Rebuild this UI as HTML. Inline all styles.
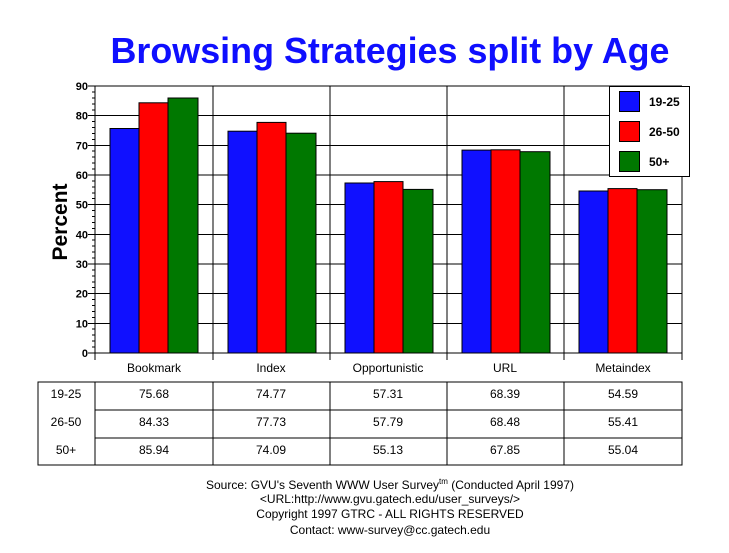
<!DOCTYPE html>
<html><head><style>
html,body{margin:0;padding:0;background:#fff;}
svg{display:block;font-family:"Liberation Sans",Arial,sans-serif;}
</style></head><body>
<svg width="729" height="553" viewBox="0 0 729 553" xmlns="http://www.w3.org/2000/svg">
<rect width="729" height="553" fill="#fff"/>
<text x="390" y="63" text-anchor="middle" font-size="36" font-weight="bold" fill="#0f0fff" textLength="559" lengthAdjust="spacingAndGlyphs">Browsing Strategies split by Age</text>
<g stroke="#000" stroke-width="1" shape-rendering="crispEdges">
<line x1="88" y1="86" x2="682" y2="86"/>
<line x1="88" y1="115.7" x2="682" y2="115.7"/>
<line x1="88" y1="145.3" x2="682" y2="145.3"/>
<line x1="88" y1="175" x2="682" y2="175"/>
<line x1="88" y1="204.7" x2="682" y2="204.7"/>
<line x1="88" y1="234.3" x2="682" y2="234.3"/>
<line x1="88" y1="264" x2="682" y2="264"/>
<line x1="88" y1="293.7" x2="682" y2="293.7"/>
<line x1="88" y1="323.3" x2="682" y2="323.3"/>
<line x1="88" y1="353" x2="682" y2="353"/>
<line x1="95" y1="86" x2="95" y2="360"/>
<line x1="213" y1="86" x2="213" y2="360"/>
<line x1="330" y1="86" x2="330" y2="360"/>
<line x1="447" y1="86" x2="447" y2="360"/>
<line x1="564" y1="86" x2="564" y2="360"/>
<line x1="682" y1="86" x2="682" y2="360"/>
</g>
<g stroke="#000" stroke-width="1" shape-rendering="crispEdges">
<path d="M92 92h3M92 98h3M92 104h3M92 110h3M92 121.6h3M92 127.5h3M92 133.4h3M92 139.4h3M92 151.2h3M92 157.2h3M92 163.1h3M92 169.1h3M92 180.9h3M92 186.8h3M92 192.8h3M92 198.7h3M92 210.6h3M92 216.5h3M92 222.5h3M92 228.4h3M92 240.2h3M92 246.2h3M92 252.1h3M92 258.1h3M92 269.9h3M92 275.9h3M92 281.8h3M92 287.7h3M92 299.6h3M92 305.5h3M92 311.5h3M92 317.4h3M92 329.2h3M92 335.2h3M92 341.1h3M92 347.1h3"/>
</g>
<g stroke="#000" stroke-width="1">
<rect x="110" y="128.5" width="29" height="224.5" fill="#1010ff"/>
<rect x="139" y="102.8" width="29" height="250.2" fill="#ff0000"/>
<rect x="168" y="98" width="30" height="255" fill="#007800"/>
<rect x="228" y="131.2" width="29" height="221.8" fill="#1010ff"/>
<rect x="257" y="122.4" width="29" height="230.6" fill="#ff0000"/>
<rect x="286" y="133.2" width="30" height="219.8" fill="#007800"/>
<rect x="345" y="183" width="29" height="170" fill="#1010ff"/>
<rect x="374" y="181.6" width="29" height="171.4" fill="#ff0000"/>
<rect x="403" y="189.4" width="30" height="163.6" fill="#007800"/>
<rect x="462" y="150.1" width="29" height="202.9" fill="#1010ff"/>
<rect x="491" y="149.8" width="29" height="203.2" fill="#ff0000"/>
<rect x="520" y="151.7" width="30" height="201.3" fill="#007800"/>
<rect x="579" y="191" width="29" height="162" fill="#1010ff"/>
<rect x="608" y="188.6" width="29" height="164.4" fill="#ff0000"/>
<rect x="637" y="189.7" width="30" height="163.3" fill="#007800"/>
</g>
<g font-size="11" font-weight="bold" text-anchor="end">
<text x="88" y="90">90</text><text x="88" y="119.7">80</text><text x="88" y="149.3">70</text>
<text x="88" y="179">60</text><text x="88" y="208.7">50</text><text x="88" y="238.3">40</text>
<text x="88" y="268">30</text><text x="88" y="297.7">20</text><text x="88" y="327.3">10</text>
<text x="88" y="357">0</text>
</g>
<text transform="translate(67,222) rotate(-90)" text-anchor="middle" font-size="21" font-weight="bold">Percent</text>
<g font-size="12" text-anchor="middle">
<text x="154" y="372">Bookmark</text><text x="271" y="372">Index</text><text x="388" y="372">Opportunistic</text>
<text x="505" y="372">URL</text><text x="623" y="372">Metaindex</text>
</g>
<rect x="609.5" y="86.5" width="80" height="90" fill="#fff" stroke="#000"/>
<g stroke="#000">
<rect x="619.5" y="91.5" width="20" height="20" fill="#1010ff"/>
<rect x="619.5" y="121.5" width="20" height="20" fill="#ff0000"/>
<rect x="619.5" y="151.5" width="20" height="20" fill="#007800"/>
</g>
<g font-size="12" font-weight="bold">
<text x="649" y="106">19-25</text><text x="649" y="136">26-50</text><text x="649" y="166">50+</text>
</g>
<g stroke="#000" fill="none" shape-rendering="crispEdges">
<rect x="38" y="382" width="644" height="83"/>
<line x1="95" y1="382" x2="95" y2="465"/>
<line x1="213" y1="382" x2="213" y2="465"/>
<line x1="330" y1="382" x2="330" y2="465"/>
<line x1="447" y1="382" x2="447" y2="465"/>
<line x1="564" y1="382" x2="564" y2="465"/>
<line x1="95" y1="410" x2="682" y2="410"/>
<line x1="95" y1="438" x2="682" y2="438"/>
</g>
<g font-size="12" text-anchor="middle">
<text x="66" y="398">19-25</text><text x="66" y="426">26-50</text><text x="66" y="454">50+</text>
<text x="154" y="398">75.68</text><text x="271" y="398">74.77</text><text x="388" y="398">57.31</text><text x="505" y="398">68.39</text><text x="623" y="398">54.59</text>
<text x="154" y="426">84.33</text><text x="271" y="426">77.73</text><text x="388" y="426">57.79</text><text x="505" y="426">68.48</text><text x="623" y="426">55.41</text>
<text x="154" y="454">85.94</text><text x="271" y="454">74.09</text><text x="388" y="454">55.13</text><text x="505" y="454">67.85</text><text x="623" y="454">55.04</text>
</g>
<g font-size="12" text-anchor="middle">
<text x="390" y="489">Source: GVU's Seventh WWW User Survey<tspan font-size="8" dy="-5">tm</tspan><tspan dy="5"> (Conducted April 1997)</tspan></text>
<text x="390" y="503">&lt;URL:http://www.gvu.gatech.edu/user_surveys/&gt;</text>
<text x="390" y="518">Copyright 1997 GTRC - ALL RIGHTS RESERVED</text>
<text x="390" y="534">Contact: www-survey@cc.gatech.edu</text>
</g>
</svg>
</body></html>
